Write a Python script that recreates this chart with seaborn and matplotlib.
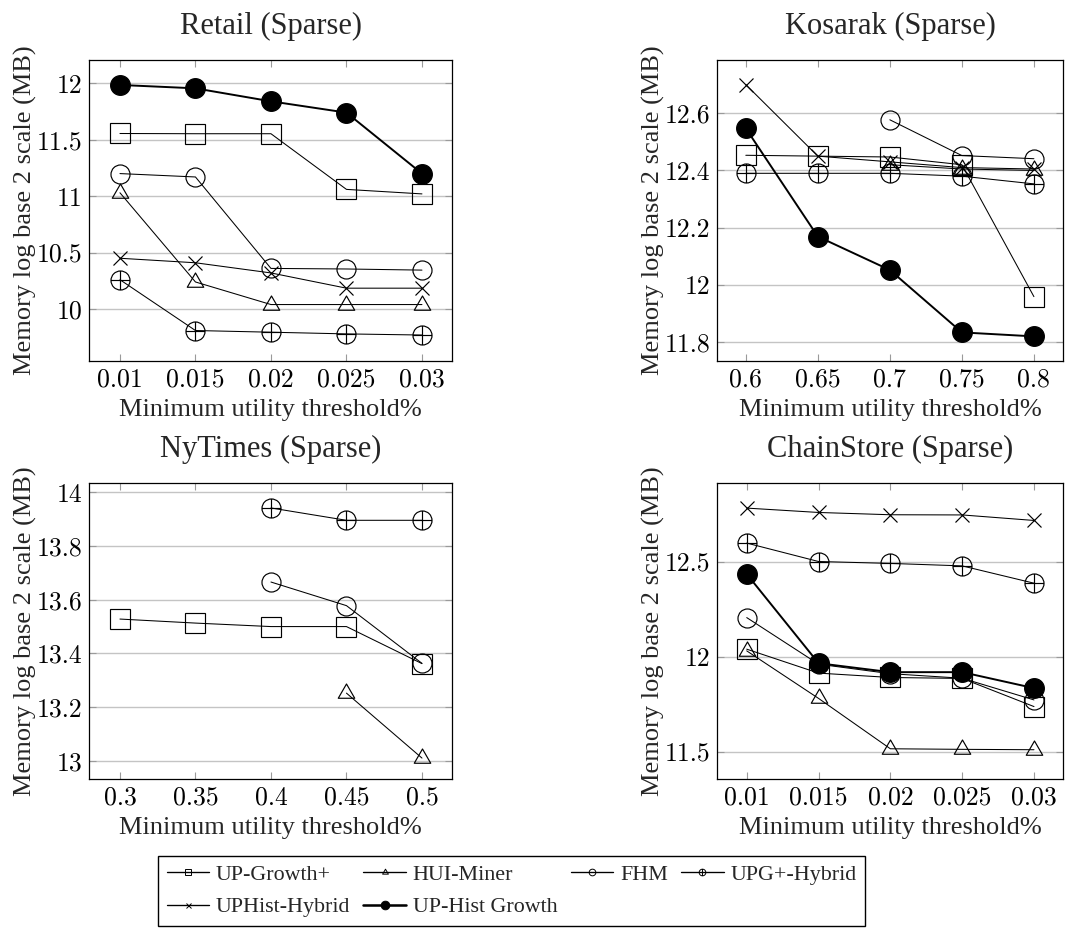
import numpy as np
import pandas as pd
import matplotlib
matplotlib.use("Agg")
import matplotlib.pyplot as plt
from matplotlib.path import Path
from matplotlib.lines import Line2D
from matplotlib.ticker import FixedLocator, FixedFormatter
import seaborn as sns

# ---------------------------------------------------------------- data
algorithms = ["UP-Growth+", "HUI-Miner", "FHM", "UPG+-Hybrid", "UPHist-Hybrid", "UP-Hist Growth"]

retail_thresholds = [0.01, 0.015, 0.02, 0.025, 0.03]
retail_up_growth_plus = [11.555, 11.553, 11.553, 11.06, 11.02]
retail_hui_miner = [11.03, 10.24, 10.04, 10.04, 10.04]
retail_fhm = [11.20, 11.17, 10.36, 10.355, 10.345]
retail_upg_hybrid = [10.26, 9.81, 9.795, 9.78, 9.77]
retail_uphist_hybrid = [10.45, 10.41, 10.32, 10.185, 10.185]
retail_uphist_growth = [11.985, 11.955, 11.84, 11.74, 11.20]

kosarak_thresholds = [0.6, 0.65, 0.7, 0.75, 0.8]
kosarak_up_growth_plus = [12.453, 12.45, 12.447, 12.42, 11.959]
kosarak_hui_miner = [np.nan, np.nan, 12.42, 12.405, 12.40]
kosarak_fhm = [np.nan, np.nan, 12.577, 12.452, 12.441]
kosarak_upg_hybrid = [12.39, 12.39, 12.39, 12.38, 12.353]
kosarak_uphist_hybrid = [12.70, 12.45, 12.43, 12.41, 12.405]
kosarak_uphist_growth = [12.547, 12.169, 12.052, 11.834, 11.82]

nytimes_thresholds = [0.3, 0.35, 0.4, 0.45, 0.5]
nytimes_up_growth_plus = [13.528, 13.513, 13.50, 13.50, 13.362]
nytimes_hui_miner = [np.nan, np.nan, np.nan, 13.252, 13.01]
nytimes_fhm = [np.nan, np.nan, 13.666, 13.578, 13.363]
nytimes_upg_hybrid = [np.nan, np.nan, 13.942, 13.896, 13.896]
nytimes_uphist_hybrid = [np.nan] * 5
nytimes_uphist_growth = [np.nan] * 5

chainstore_thresholds = [0.01, 0.015, 0.02, 0.025, 0.03]
chainstore_up_growth_plus = [12.039, 11.913, 11.89, 11.885, 11.737]
chainstore_hui_miner = [12.03, 11.78, 11.515, 11.512, 11.51]
chainstore_fhm = [12.205, 11.96, 11.91, 11.886, 11.772]
chainstore_upg_hybrid = [12.597, 12.50, 12.49, 12.477, 12.386]
chainstore_uphist_hybrid = [12.781, 12.758, 12.746, 12.745, 12.716]
chainstore_uphist_growth = [12.434, 11.965, 11.918, 11.918, 11.834]

retail_xticklabels = ["0.01", "0.015", "0.02", "0.025", "0.03"]
retail_yticks = [10, 10.5, 11, 11.5, 12]
retail_yticklabels = ["10", "10.5", "11", "11.5", "12"]
kosarak_xticklabels = ["0.6", "0.65", "0.7", "0.75", "0.8"]
kosarak_yticks = [11.8, 12.0, 12.2, 12.4, 12.6]
kosarak_yticklabels = ["11.8", "12", "12.2", "12.4", "12.6"]
nytimes_xticklabels = ["0.3", "0.35", "0.4", "0.45", "0.5"]
nytimes_yticks = [13.0, 13.2, 13.4, 13.6, 13.8, 14.0]
nytimes_yticklabels = ["13", "13.2", "13.4", "13.6", "13.8", "14"]
chainstore_xticklabels = ["0.01", "0.015", "0.02", "0.025", "0.03"]
chainstore_yticks = [11.5, 12.0, 12.5]
chainstore_yticklabels = ["11.5", "12", "12.5"]

panels = [
    dict(title="Retail (Sparse)", x=retail_thresholds,
         series=[retail_up_growth_plus, retail_hui_miner, retail_fhm,
                 retail_upg_hybrid, retail_uphist_hybrid, retail_uphist_growth],
         xlabels=retail_xticklabels, yticks=retail_yticks, ylabels=retail_yticklabels,
         xlim=(0.00795, 0.03199), ylim=(9.54, 12.206),
         rect=(89, 60, 363, 301)),
    dict(title="Kosarak (Sparse)", x=kosarak_thresholds,
         series=[kosarak_up_growth_plus, kosarak_hui_miner, kosarak_fhm,
                 kosarak_upg_hybrid, kosarak_uphist_hybrid, kosarak_uphist_growth],
         xlabels=kosarak_xticklabels, yticks=kosarak_yticks, ylabels=kosarak_yticklabels,
         xlim=(0.58, 0.8202), ylim=(11.734, 12.786),
         rect=(717, 60, 346, 301)),
    dict(title="NyTimes (Sparse)", x=nytimes_thresholds,
         series=[nytimes_up_growth_plus, nytimes_hui_miner, nytimes_fhm,
                 nytimes_upg_hybrid, nytimes_uphist_hybrid, nytimes_uphist_growth],
         xlabels=nytimes_xticklabels, yticks=nytimes_yticks, ylabels=nytimes_yticklabels,
         xlim=(0.2795, 0.5199), ylim=(12.932, 14.035),
         rect=(89, 483, 363, 296)),
    dict(title="ChainStore (Sparse)", x=chainstore_thresholds,
         series=[chainstore_up_growth_plus, chainstore_hui_miner, chainstore_fhm,
                 chainstore_upg_hybrid, chainstore_uphist_hybrid, chainstore_uphist_growth],
         xlabels=chainstore_xticklabels, yticks=chainstore_yticks, ylabels=chainstore_yticklabels,
         xlim=(0.00793, 0.03202), ylim=(11.356, 12.913),
         rect=(717, 483, 346, 296)),
]

# ---------------------------------------------------------------- marker shapes
triangle = Path([(0, 1), (-0.866, -0.5), (0.866, -0.5), (0, 1)],
                [Path.MOVETO, Path.LINETO, Path.LINETO, Path.CLOSEPOLY])
cross = Path([(-1, 0), (1, 0), (0, -1), (0, 1)],
             [Path.MOVETO, Path.LINETO, Path.MOVETO, Path.LINETO])
oplus = Path.make_compound_path(Path.unit_circle(), cross)

styles = {
    "UP-Growth+":     dict(marker="s", ms=13.7, mfc="none", lw=0.75),
    "HUI-Miner":      dict(marker=triangle, ms=13.7, mfc="none", lw=0.75),
    "FHM":            dict(marker="o", ms=13.7, mfc="none", lw=0.75),
    "UPG+-Hybrid":    dict(marker=oplus, ms=13.7, mfc="none", lw=0.75),
    "UPHist-Hybrid":  dict(marker="x", ms=9.7, mfc="none", lw=0.75),
    "UP-Hist Growth": dict(marker="o", ms=14.2, mfc="black", lw=1.4),
}

# ---------------------------------------------------------------- style
sns.set_style("white")
plt.rcParams["font.family"] = ["Liberation Serif", "DejaVu Serif"]
plt.rcParams["axes.linewidth"] = 0.8

W, H = 1089, 933
fig = plt.figure(figsize=(W / 100, H / 100), dpi=100)

TICK_FONT = "cmr10"

for p in panels:
    left, top, width, height = p["rect"]
    ax = fig.add_axes([left / W, 1 - (top + height) / H, width / W, height / H])

    frames = []
    for name, values in zip(algorithms, p["series"]):
        frames.append(pd.DataFrame({"threshold": p["x"], "memory": values, "algorithm": name}))
    df = pd.concat(frames, ignore_index=True)

    for name in algorithms:
        sub = df[df["algorithm"] == name].dropna()
        if sub.empty:
            continue
        st = styles[name]
        sns.lineplot(data=sub, x="threshold", y="memory", ax=ax,
                     color="black", linewidth=st["lw"], marker=st["marker"],
                     markersize=st["ms"], markerfacecolor=st["mfc"],
                     markeredgecolor="black", markeredgewidth=0.85,
                     sort=False, errorbar=None, legend=False, clip_on=False)

    ax.set_xlim(*p["xlim"])
    ax.set_ylim(*p["ylim"])
    ax.xaxis.set_major_locator(FixedLocator(p["x"]))
    ax.xaxis.set_major_formatter(FixedFormatter(p["xlabels"]))
    ax.yaxis.set_major_locator(FixedLocator(p["yticks"]))
    ax.yaxis.set_major_formatter(FixedFormatter(p["ylabels"]))
    for lab in ax.get_xticklabels() + ax.get_yticklabels():
        lab.set_fontfamily(TICK_FONT)
        lab.set_fontsize(18.5)

    ax.tick_params(axis="both", which="major", direction="in", length=5, width=0.8,
                   color="#9a9a9a", top=True, right=True, bottom=True, left=True,
                   labelcolor="black")
    ax.tick_params(axis="x", pad=5)
    ax.tick_params(axis="y", pad=5)
    ax.yaxis.grid(True, color="#c4c4c4", linewidth=1.0)
    ax.xaxis.grid(False)
    ax.set_axisbelow(True)
    for sp in ax.spines.values():
        sp.set_color("black")
        sp.set_linewidth(0.9)

    ax.set_title(p["title"], fontsize=22, pad=19)
    ax.set_xlabel("Minimum utility threshold%", fontsize=19, labelpad=5)
    ax.set_ylabel("Memory log base 2 scale (MB)", fontsize=19, va="center")
    ax.yaxis.set_label_coords(-64 / width, 0.5)

# ---------------------------------------------------------------- legend
legend_order = ["UP-Growth+", "UPHist-Hybrid", "HUI-Miner", "UP-Hist Growth", "FHM", "UPG+-Hybrid"]
handles = []
for name in legend_order:
    st = styles[name]
    small = 4.8 if name != "UPHist-Hybrid" else 3.6
    if name == "UP-Hist Growth":
        small = 6.2
    handles.append(Line2D([], [], color="black", linewidth=st["lw"] * 1.3,
                          marker=st["marker"], markersize=small,
                          markerfacecolor=st["mfc"], markeredgecolor="black",
                          markeredgewidth=0.7))
leg = fig.legend(handles, legend_order, ncol=4, loc="center",
                 bbox_to_anchor=(511.5 / W, 1 - 891 / H),
                 frameon=True, fancybox=False, framealpha=1, edgecolor="black",
                 fontsize=15.8, handlelength=1.95, handletextpad=0.3,
                 columnspacing=0.6, labelspacing=0.55, borderpad=0.4,
                 borderaxespad=0)
leg.get_frame().set_linewidth(1.0)

fig.savefig("out.png", dpi=100)
